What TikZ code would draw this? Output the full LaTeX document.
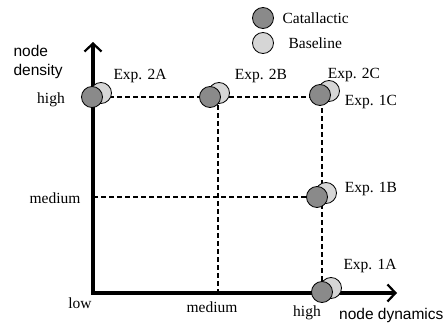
\documentclass[tikz,border=0pt]{standalone}
\usepackage{fontspec}
\setmainfont{Liberation Serif}
\setsansfont{Liberation Sans}
\usetikzlibrary{arrows.meta}
\definecolor{catgray}{HTML}{8A8A8A}
\definecolor{basegray}{HTML}{D6D6D6}

\begin{document}
\begin{tikzpicture}[x=1pt,y=-1pt,
    dot/.style={circle,draw=black,line width=0.8pt,minimum size=21pt,inner sep=0pt},
    cat/.style={dot,fill=catgray},
    base/.style={dot,fill=basegray},
    gridline/.style={dash pattern=on 5pt off 3pt,line width=1.3pt},
    axis/.style={line width=3.2pt,line join=miter,
        {Straight Barb[length=8pt,width=17pt,line width=2.2pt]}-{Straight Barb[length=8pt,width=17pt,line width=2.2pt]}},
    lbl/.style={font=\fontsize{15.5}{18}\selectfont},
    ttl/.style={font=\sffamily\fontsize{15.5}{19}\selectfont,align=left}]
\useasboundingbox (0,0) rectangle (448,324);

% axes and grid
\coordinate (O) at (93,293);
\coordinate (ytop) at (93,42);
\coordinate (xend) at (397,293);
\coordinate (yhigh) at (93,97);
\coordinate (ymed) at (93,197);
\coordinate (hh) at (322,97);
\coordinate (mh) at (322,197);
\coordinate (hbot) at (322,303);
\coordinate (mtop) at (218,97);
\coordinate (mbot) at (218,295);

\draw[gridline] (yhigh) -- (hh) -- (hbot);
\draw[gridline] (ymed) -- (mh);
\draw[gridline] (mtop) -- (mbot);
\draw[axis] (ytop) -- (O) -- (xend);

% experiments
\foreach \n/\x/\y in {2A/92/97, 2B/210/97, 2C/320/95, 1B/317/197, 1A/322/292}{
    \node[base] (b\n) at (\x+9,\y-4) {};
    \node[cat] (c\n) at (\x,\y) {};
}
\node[lbl] (l2A) at (140,76) {Exp. 2A};
\node[lbl] (l2B) at (261,76) {Exp. 2B};
\node[lbl] (l2C) at (354,75) {Exp. 2C};
\node[lbl] (l1C) at (371,102) {Exp. 1C};
\node[lbl] (l1B) at (371,189) {Exp. 1B};
\node[lbl] (l1A) at (370,266) {Exp. 1A};

% ticks and titles
\node[lbl] (yh) at (51,100) {high};
\node[lbl] (ym) at (55,198) {medium};
\node[lbl] (xl) at (80,303) {low};
\node[lbl] (xm) at (212,307) {medium};
\node[lbl] (xh) at (307,313) {high};
\node[ttl,anchor=west] (ytitle) at (10,62) {node\\density};
\node[ttl,anchor=east] (xtitle) at (447,315) {node dynamics};

% legend
\node[cat] (legc) at (263,18) {};
\node[lbl,anchor=west] (legct) at (279,18) {Catallactic};
\node[base] (legb) at (263,43) {};
\node[lbl,anchor=west] (legbt) at (285,43) {Baseline};
\end{tikzpicture}
\end{document}
